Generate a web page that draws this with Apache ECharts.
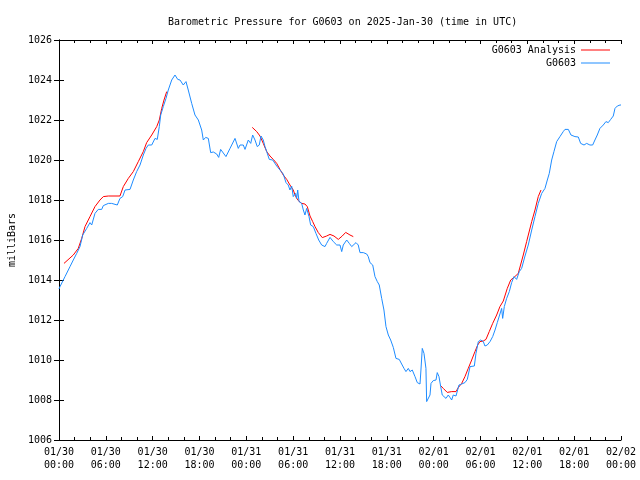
<!DOCTYPE html>
<html>
<head>
<meta charset="utf-8">
<script src="https://cdn.jsdelivr.net/npm/echarts@6/dist/echarts.min.js"></script>
<style>
html,body{margin:0;padding:0;background:#fff;}
#chart{width:640px;height:480px;}
</style>
</head>
<body>
<div id="chart"></div>
<script>
// Hours since 2025-01-30 00:00 UTC
var xTickLabels = ['01/30\n00:00','01/30\n06:00','01/30\n12:00','01/30\n18:00','01/31\n00:00','01/31\n06:00','01/31\n12:00','01/31\n18:00','02/01\n00:00','02/01\n06:00','02/01\n12:00','02/01\n18:00','02/02\n00:00'];
var yTicks = [1006,1008,1010,1012,1014,1016,1018,1020,1022,1024,1026];

var obsHours = [0,0.13,0.77,1.41,1.83,2.27,2.69,3.04,3.55,3.97,4.19,4.61,5.03,5.47,5.68,6.32,6.75,6.96,7.47,7.81,8.16,8.46,9.10,9.52,9.95,10.38,10.80,11.15,11.44,11.88,12.30,12.59,12.85,13.03,13.36,13.71,14.00,14.44,14.86,15.21,15.50,15.92,16.27,16.56,17.00,17.42,17.85,18.28,18.49,18.79,19.13,19.43,19.77,20.20,20.46,20.71,21.39,21.91,22.55,22.97,23.19,23.61,23.83,24.25,24.56,24.81,25.11,25.40,25.66,25.88,26.17,26.39,26.61,26.94,27.38,27.89,28.31,28.53,28.73,29.08,29.37,29.59,29.81,30.01,30.32,30.45,30.58,30.75,31.09,31.30,31.51,31.73,32.03,32.24,32.58,32.92,33.27,33.65,34.08,34.29,34.72,35.14,35.58,36.00,36.22,36.42,36.86,37.19,37.50,37.70,38.05,38.34,38.56,38.98,39.42,39.62,39.84,40.19,40.48,40.78,41.03,41.34,41.63,41.89,42.19,42.49,42.83,43.17,43.59,43.90,44.20,44.45,44.75,44.97,45.26,45.61,45.90,46.25,46.37,46.54,46.76,47.01,47.10,47.31,47.53,47.66,47.95,48.30,48.46,48.68,48.90,49.10,49.32,49.58,49.87,50.09,50.31,50.51,50.86,51.24,51.59,52.01,52.31,52.66,53.21,53.42,53.72,54.02,54.36,54.57,54.87,55.22,55.56,55.86,56.15,56.49,56.71,56.84,57.05,57.35,57.69,57.99,58.29,58.63,58.97,59.27,59.70,60.12,60.56,60.98,61.40,61.84,62.26,62.56,62.81,63.12,63.41,63.76,64.18,64.60,64.82,65.25,65.59,66.10,66.53,66.83,67.26,67.60,68.02,68.37,68.66,68.96,69.30,69.73,70.07,70.37,70.68,71.01,71.23,71.53,71.87,72.0];
var obsPressure = [1013.55,1013.67,1014.17,1014.67,1015.0,1015.33,1015.67,1016.25,1016.58,1016.87,1016.75,1017.33,1017.53,1017.53,1017.72,1017.83,1017.83,1017.92,1017.75,1018.08,1018.17,1018.5,1018.53,1019.0,1019.42,1019.75,1020.25,1020.58,1020.75,1020.75,1021.08,1021.03,1021.67,1022.25,1022.67,1023.08,1023.5,1024.0,1024.25,1024.03,1024.0,1023.75,1023.92,1023.5,1022.83,1022.25,1022.0,1021.5,1021.0,1021.13,1021.08,1020.37,1020.4,1020.3,1020.13,1020.53,1020.17,1020.58,1021.08,1020.58,1020.75,1020.75,1020.53,1021.0,1020.83,1021.25,1021.0,1020.67,1020.75,1021.2,1021.0,1020.67,1020.42,1020.03,1020.0,1019.7,1019.5,1019.58,1019.3,1018.87,1018.75,1018.5,1018.7,1018.17,1018.33,1018.08,1018.5,1017.92,1017.83,1017.5,1017.25,1017.58,1017.17,1016.75,1016.67,1016.33,1016.0,1015.75,1015.67,1015.83,1016.13,1015.92,1015.75,1015.75,1015.42,1015.75,1016.0,1015.83,1015.67,1015.7,1015.87,1015.75,1015.37,1015.37,1015.3,1015.17,1014.87,1014.75,1014.17,1013.92,1013.75,1013.08,1012.5,1011.67,1011.25,1011.0,1010.63,1010.08,1010.03,1009.8,1009.58,1009.42,1009.58,1009.42,1009.5,1009.17,1008.87,1008.8,1009.5,1010.58,1010.33,1009.58,1007.92,1008.0,1008.25,1008.83,1008.97,1009.0,1009.37,1009.17,1008.67,1008.25,1008.33,1008.08,1008.25,1008.13,1008.0,1008.25,1008.2,1008.75,1008.8,1008.87,1009.03,1009.67,1009.7,1010.33,1010.92,1011.0,1010.92,1010.7,1010.75,1010.92,1011.17,1011.5,1011.87,1012.3,1012.58,1012.08,1012.67,1013.08,1013.42,1013.87,1014.17,1014.03,1014.42,1014.58,1015.2,1015.75,1016.5,1017.17,1017.83,1018.33,1018.58,1019.0,1019.33,1020.0,1020.42,1020.92,1021.17,1021.42,1021.53,1021.53,1021.25,1021.17,1021.15,1020.83,1020.75,1020.83,1020.75,1020.75,1021.0,1021.25,1021.58,1021.75,1021.92,1021.87,1022.03,1022.2,1022.58,1022.7,1022.75,1022.75];

var anaHours1 = [0.64,1.83,2.47,2.91,3.33,3.97,4.61,5.25,5.68,6.32,7.81,8.24,8.88,9.52,10.16,10.80,11.23,11.88,12.52,12.85,13.16,13.45,13.80];
var anaPressure1 = [1014.83,1015.25,1015.58,1016.08,1016.67,1017.17,1017.67,1018.0,1018.17,1018.2,1018.2,1018.67,1019.08,1019.42,1019.92,1020.42,1020.87,1021.25,1021.67,1022.0,1022.58,1023.0,1023.42];
var anaHours2 = [24.76,25.33,25.75,26.17,26.61,27.03,27.45,27.89,28.31,28.73,29.17,29.59,30.01,30.32,30.66,31.09,31.51,31.81,32.16,32.50,32.80,33.22,33.73,34.29,34.72,35.23,35.78,36.29,36.73,37.28,37.70];
var anaPressure2 = [1021.63,1021.42,1021.2,1020.83,1020.42,1020.2,1020.03,1019.83,1019.53,1019.25,1019.03,1018.75,1018.5,1018.17,1017.97,1017.83,1017.8,1017.67,1017.2,1016.92,1016.67,1016.37,1016.12,1016.2,1016.28,1016.2,1016.03,1016.2,1016.38,1016.25,1016.17];
var anaHours3 = [48.81,49.23,49.74,50.31,50.86,51.15,51.59,52.01,52.43,52.87,53.29,53.64,53.93,54.36,54.70,55.12,55.56,56.07,56.49,56.92,57.43,57.87,58.29,58.84,59.48,59.91,60.56,60.98,61.40,61.75];
var anaPressure3 = [1008.75,1008.58,1008.38,1008.42,1008.42,1008.62,1008.83,1009.17,1009.58,1010.0,1010.42,1010.75,1010.92,1010.95,1011.03,1011.42,1011.83,1012.25,1012.67,1012.95,1013.58,1014.0,1014.13,1014.33,1015.25,1015.92,1016.92,1017.5,1018.17,1018.5];

function zip(a, b) { return a.map(function (v, i) { return [v, b[i]]; }); }

var FONT = 'DejaVu Sans Mono';
var RED = '#ff0000';
var BLUE = '#1e8cff';

function xAxisCfg(pos, showLabels) {
  return {
    type: 'value', position: pos, min: 0, max: 72, interval: 6,
    axisLine: { show: true, lineStyle: { color: '#000', width: 1 } },
    axisTick: { show: true, inside: true, length: 4, lineStyle: { color: '#000' } },
    minorTick: { show: true, splitNumber: 3, length: 3, lineStyle: { color: '#000' } },
    splitLine: { show: false },
    axisLabel: {
      show: showLabels, margin: 6, fontFamily: FONT, fontSize: 10, color: '#000', lineHeight: 13,
      hideOverlap: false, showMinLabel: true, showMaxLabel: true,
      formatter: function (v) { return xTickLabels[Math.round(v / 6)]; }
    }
  };
}
function yAxisCfg(pos, showLabels) {
  var c = {
    type: 'value', position: pos, min: yTicks[0], max: yTicks[yTicks.length - 1], interval: 2,
    axisLine: { show: true, lineStyle: { color: '#000', width: 1 } },
    axisTick: { show: true, inside: true, length: 5, lineStyle: { color: '#000' } },
    splitLine: { show: false },
    axisLabel: { show: showLabels, margin: 7, fontFamily: FONT, fontSize: 10, color: '#000',
      showMinLabel: true, showMaxLabel: true,
      formatter: function (v) { return String(v); } }
  };
  if (showLabels) {
    c.name = 'milliBars';
    c.nameLocation = 'middle';
    c.nameRotate = 90;
    c.nameGap = 41;
    c.nameTextStyle = { fontFamily: FONT, fontSize: 10, color: '#000' };
  }
  return c;
}

var chart = echarts.init(document.getElementById('chart'), null, { renderer: 'canvas' });
chart.setOption({
  animation: false,
  backgroundColor: '#fff',
  title: {
    text: 'Barometric Pressure for G0603 on 2025-Jan-30 (time in UTC)',
    left: 163, top: 12,
    textStyle: { fontFamily: FONT, fontSize: 10, fontWeight: 'normal', color: '#000' }
  },
  grid: { left: 59, right: 19, top: 40, bottom: 40, containLabel: false, outerBoundsMode: 'none' },
  legend: [
    { data: ['G0603 Analysis'], right: 30, top: 45, padding: 0, align: 'right', icon: 'rect', itemWidth: 29, itemHeight: 1,
      textStyle: { fontFamily: FONT, fontSize: 10, color: '#000' } },
    { data: ['G0603'], right: 30, top: 58, padding: 0, align: 'right', icon: 'rect', itemWidth: 29, itemHeight: 1,
      textStyle: { fontFamily: FONT, fontSize: 10, color: '#000' } }
  ],
  xAxis: [xAxisCfg('bottom', true), xAxisCfg('top', false)],
  yAxis: [yAxisCfg('left', true), yAxisCfg('right', false)],
  series: [
    { name: 'G0603 Analysis', type: 'line', symbol: 'none', data: zip(anaHours1, anaPressure1),
      lineStyle: { color: RED, width: 1 }, itemStyle: { color: RED }, z: 2 },
    { name: 'G0603 Analysis', type: 'line', symbol: 'none', data: zip(anaHours2, anaPressure2),
      lineStyle: { color: RED, width: 1 }, itemStyle: { color: RED }, z: 2 },
    { name: 'G0603 Analysis', type: 'line', symbol: 'none', data: zip(anaHours3, anaPressure3),
      lineStyle: { color: RED, width: 1 }, itemStyle: { color: RED }, z: 2 },
    { name: 'G0603', type: 'line', symbol: 'none', data: zip(obsHours, obsPressure),
      lineStyle: { color: BLUE, width: 1 }, itemStyle: { color: BLUE }, z: 3 }
  ]
});
</script>
</body>
</html>
